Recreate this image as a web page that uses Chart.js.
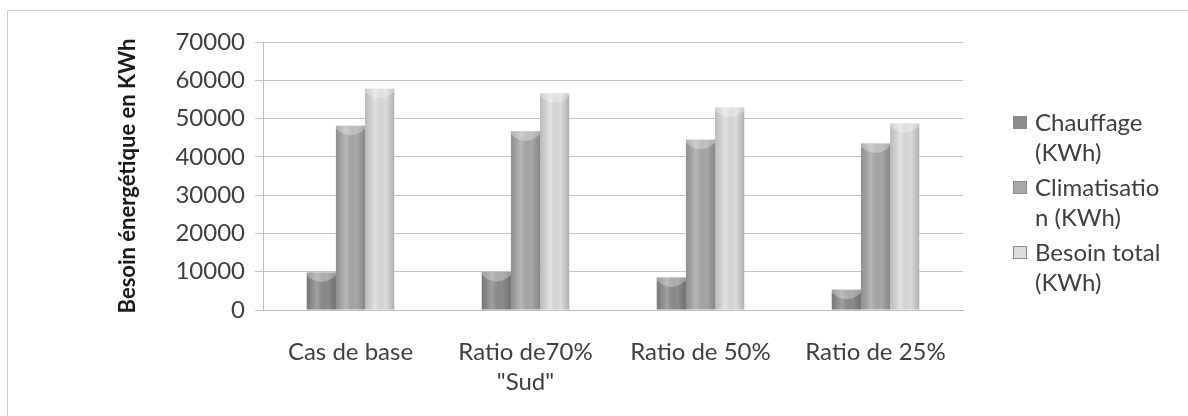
<!DOCTYPE html>
<html>
<head>
<meta charset="utf-8">
<script src="https://cdn.jsdelivr.net/npm/chart.js@4.4.1/dist/chart.umd.min.js"></script>
<style>
    html, body { margin: 0; padding: 0; background: #fff; }
    #wrap { position: relative; width: 1188px; height: 416px; overflow: hidden; }
    #frame { position: absolute; left: 7px; top: 10px; width: 1300px; height: 500px; border: 1px solid #d0d0d0; box-sizing: border-box; }
    #chartBox { position: absolute; left: 0; top: 0; width: 1188px; height: 416px; }
    #legend { position: absolute; left: 1013px; top: 107px; font-family: Lato, sans-serif; font-size: 24px; color: #404040; }
    .item { position: relative; padding-left: 22px; margin-bottom: 5px; line-height: 30px; }
    .swatch { position: absolute; left: 0; top: 9px; width: 14px; height: 13px; }
</style>
</head>
<body>
<div id="wrap">
    <div id="frame"></div>
    <div id="chartBox"><canvas id="chart"></canvas></div>
    <div id="legend"></div>
</div>
<script>
// Categories (x axis)
const categories = ['Cas de base', ['Ratio de70%', '"Sud"'], 'Ratio de 50%', 'Ratio de 25%'];

// Series values (KWh)
const chauffage = [9800, 9900, 8500, 5300];
const climatisation = [48100, 46700, 44500, 43500];
const besoinTotal = [57800, 56600, 52900, 48700];

// Series names, and legend lines as wrapped in the original
const seriesNames = ['Chauffage (KWh)', 'Climatisation (KWh)', 'Besoin total (KWh)'];
const legendLines = [['Chauffage', '(KWh)'], ['Climatisatio', 'n (KWh)'], ['Besoin total', '(KWh)']];
const seriesColors = ['#8c8c8c', '#a8a8a8', '#dcdcdc'];

// Y axis ticks
const yTicks = [0, 10000, 20000, 30000, 40000, 50000, 60000, 70000];
const yTitle = 'Besoin énergétique en KWh';

// shading to give the bars a rounded, cylinder-like look
const cylinderShade = {
    id: 'cylinderShade',
    afterDatasetsDraw(chart) {
        const ctx = chart.ctx;
        chart.data.datasets.forEach((ds, i) => {
            const meta = chart.getDatasetMeta(i);
            meta.data.forEach(bar => {
                const p = bar.getProps(['x', 'y', 'width', 'base'], true);
                const left = p.x - p.width / 2;
                const g = ctx.createLinearGradient(left, 0, left + p.width, 0);
                g.addColorStop(0, 'rgba(0,0,0,0.15)');
                g.addColorStop(0.35, 'rgba(255,255,255,0.18)');
                g.addColorStop(0.7, 'rgba(0,0,0,0.0)');
                g.addColorStop(1, 'rgba(0,0,0,0.2)');
                ctx.save();
                ctx.fillStyle = g;
                ctx.fillRect(left, p.y, p.width, p.base - p.y);
                // top cap: lighter notch
                ctx.beginPath();
                ctx.moveTo(left, p.y);
                ctx.lineTo(left + p.width, p.y);
                ctx.lineTo(left + p.width, p.y + 3);
                ctx.quadraticCurveTo(p.x, p.y + 16, left, p.y + 3);
                ctx.closePath();
                ctx.fillStyle = 'rgba(255,255,255,0.3)';
                ctx.fill();
                ctx.restore();
            });
        });
    }
};

const chart = new Chart(document.getElementById('chart'), {
    type: 'bar',
    data: {
        labels: categories,
        datasets: [
            { label: seriesNames[0], data: chauffage, backgroundColor: seriesColors[0] },
            { label: seriesNames[1], data: climatisation, backgroundColor: seriesColors[1] },
            { label: seriesNames[2], data: besoinTotal, backgroundColor: seriesColors[2] }
        ]
    },
    options: {
        responsive: true,
        maintainAspectRatio: false,
        animation: false,
        layout: { padding: { left: 115, top: 42, right: 225, bottom: 0 } },
        datasets: { bar: { categoryPercentage: 0.5, barPercentage: 1.0 } },
        plugins: {
            legend: { display: false },
            tooltip: { enabled: false }
        },
        scales: {
            x: {
                grid: { display: false },
                border: { display: true, color: '#bfbfbf' },
                ticks: {
                    font: { family: 'Lato', size: 24, lineHeight: 1.25 },
                    color: '#404040',
                    padding: 19,
                    maxRotation: 0,
                    autoSkip: false
                },
                afterFit: (scale) => { scale.height = 106; }
            },
            y: {
                min: 0,
                max: 70000,
                afterBuildTicks: (scale) => { scale.ticks = yTicks.map(v => ({ value: v })); },
                grid: { color: '#c4c4c4', tickLength: 8, lineWidth: 1 },
                border: { display: true, color: '#bfbfbf' },
                ticks: {
                    font: { family: 'Lato', size: 24 },
                    color: '#404040',
                    padding: 10,
                    callback: (v) => String(v)
                },
                title: {
                    display: true,
                    text: yTitle,
                    font: { family: 'Lato', size: 22, weight: 'bold' },
                    color: '#1a1a1a',
                    padding: 0
                },
                afterFit: (scale) => { scale.width = 148; }
            }
        }
    },
    plugins: [cylinderShade]
});

// HTML legend, wrapped the way the original wraps it
const legendEl = document.getElementById('legend');
legendLines.forEach((lines, i) => {
    const item = document.createElement('div');
    item.className = 'item';
    const sw = document.createElement('span');
    sw.className = 'swatch';
    sw.style.background = seriesColors[i];
    sw.style.border = '1px solid #8a8a8a';
    sw.style.boxSizing = 'border-box';
    item.appendChild(sw);
    lines.forEach((t, j) => {
        if (j > 0) item.appendChild(document.createElement('br'));
        item.appendChild(document.createTextNode(t));
    });
    legendEl.appendChild(item);
});
</script>
</body>
</html>
